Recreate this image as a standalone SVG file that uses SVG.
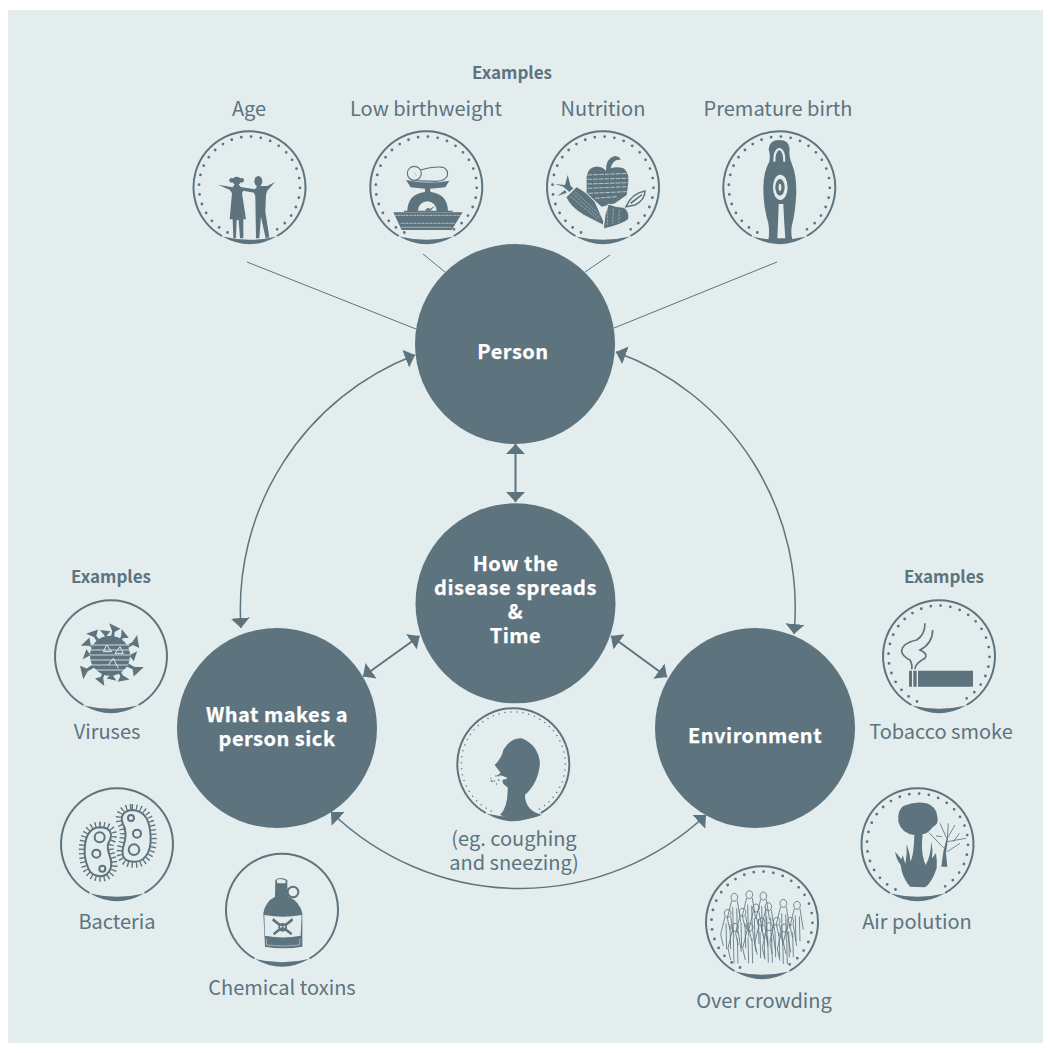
<svg xmlns="http://www.w3.org/2000/svg" width="1051" height="1053" viewBox="0 0 1051 1053">
<style>
text{font-family:"Noto Sans CJK SC","Noto Sans",sans-serif;text-anchor:middle}
.lbl{font-size:20px;fill:#5d737e}
.ex{font-size:17px;font-weight:700;fill:#5d737e}
.nt{font-size:20px;font-weight:700;fill:#fff;letter-spacing:.5px;stroke:#fff;stroke-width:.25px}
.hub{fill:#5d737e}
.ink{fill:#5d737e}
.lt{fill:#e3edee}
.ltl{fill:none;stroke:#e3edee;stroke-width:3}
.ol{fill:none;stroke:#5d737e;stroke-width:3.500}
.ring{fill:none;stroke:#5d737e;stroke-width:2}
.dots{fill:none;stroke:#5d737e;stroke-width:2.800;stroke-linecap:round;stroke-dasharray:0 9.800}
.arc{fill:none;stroke:#5d737e;stroke-width:1.500;marker-start:url(#ah);marker-end:url(#ah)}
.dbl{fill:none;stroke:#5d737e;stroke-width:2;marker-start:url(#ah);marker-end:url(#ah)}
.thin{fill:none;stroke:#5d737e;stroke-width:1}
</style>
<defs>
<marker id="ah" markerUnits="userSpaceOnUse" markerWidth="20" markerHeight="20" refX="10" refY="9.500" orient="auto-start-reverse" viewBox="0 0 20 19"><path d="M0 0L10 9.500L0 19Z" fill="#5d737e"/></marker>
<g id="ring"><path class="ring" d="M27.500 49A56 56 0 1 0-27.500 49"/><path class="ink" d="M-27 49.500Q0 65 27 49.500Q0 56-27 49.500Z"/></g>
<path id="dotring" class="dots" d="M-22 45.500A50.500 50.500 0 1 1 22 45.500"/>
<path id="spike" class="ink" d="M-5 -50L5 -50L4 -72L20 -84L-16 -96L-4 -74Z"/>
</defs>
<rect width="1051" height="1053" fill="#fff"/>
<rect x="8" y="10" width="1035" height="1033" fill="#e3edee"/>

<g id="connectors">
<path class="arc" d="M415 355A272 272 0 0 0 241 628"/>
<path class="arc" d="M616 352A272 272 0 0 1 794 634"/>
<path class="arc" d="M331 812A272 272 0 0 0 706 815"/>
<path class="dbl" d="M515.500 444V502"/>
<path class="dbl" d="M419.500 636L363 676.500"/>
<path class="dbl" d="M611 636L667 677"/>
<path class="thin" d="M247 262L416 329M423 254L445 272M610 255L585 272M777 262L614 328"/>
</g>

<g id="node-person"><circle class="hub" cx="515" cy="344" r="100"/><text class="nt" x="513" y="359">Person</text></g>
<g id="node-spread"><circle class="hub" cx="515.500" cy="603.300" r="100"/><text class="nt"><tspan x="515.500" y="571">How the</tspan><tspan x="515.500" y="595">disease spreads</tspan><tspan x="515.500" y="619">&amp;</tspan><tspan x="515.500" y="643">Time</tspan></text></g>
<g id="node-agent"><circle class="hub" cx="277" cy="728" r="100"/><text class="nt"><tspan x="277" y="722">What makes a</tspan><tspan x="277" y="746">person sick</tspan></text></g>
<g id="node-environment"><circle class="hub" cx="755" cy="728" r="100"/><text class="nt" x="755" y="743">Environment</text></g>

<text class="ex" x="512" y="79">Examples</text>
<text class="ex" x="111" y="583">Examples</text>
<text class="ex" x="944" y="583">Examples</text>

<g id="icon-age">
<text class="lbl" x="249" y="116">Age</text>
<use href="#ring" x="249.500" y="187"/><use href="#dotring" x="249.500" y="187"/>
<g class="ink" transform="translate(180 60) scale(.3333)">
<circle cx="170" cy="362" r="12"/><circle cx="155" cy="361" r="7"/><circle cx="185" cy="361" r="7"/>
<ellipse cx="235" cy="364" rx="12" ry="16"/>
<path d="M114 374L158 382L165 372L175 372L182 381L225 388L232 378L240 378L262 378L285 366L262 392L258 405L256 455L268 532L257 535L243 470L238 535L228 535L226 410L222 398L190 392L186 400L198 478L190 478L190 535L180 535L176 480L170 480L168 535L160 535L158 478L149 478L156 400L150 390Z"/>
</g></g>

<g id="icon-birthweight">
<text class="lbl" x="426" y="116">Low birthweight</text>
<use href="#ring" x="426.300" y="187"/><use href="#dotring" x="426.300" y="187"/>
<g transform="translate(180 60) scale(.3333)">
<circle cx="703" cy="340" r="21" class="ol"/>
<path class="ol" d="M722 330Q760 318 790 322Q806 330 802 348Q795 362 770 364L700 362"/>
<path class="thin" d="M703 338L710 348"/>
<path class="ink" d="M678 360Q740 374 808 362L796 382L750 386L752 396Q802 402 804 452L818 452L818 456L672 456L672 452L682 452Q684 402 735 396L735 386L692 382ZM640 457H848L815 510H665Z"/>
<path class="lt" d="M714 452A28 28 0 0 1 770 452Z"/>
<path class="ink" d="M736 452A8 8 0 0 1 750 447L765 437L752 452Z"/>
<path class="ltl" style="stroke-width:2" stroke-dasharray="6 2" d="M646 466H842M662 490H825M664 502H816"/>
</g></g>

<g id="icon-nutrition">
<text class="lbl" x="603" y="116">Nutrition</text>
<use href="#ring" x="603" y="187"/><use href="#dotring" x="603" y="187"/>
<g transform="translate(520 60) scale(.3333)">
<path class="ink" d="M200 350Q205 318 235 320Q252 322 258 333Q256 295 285 288Q300 290 302 300Q280 296 272 325Q290 318 310 325Q328 335 325 370L320 405L285 430L245 440L200 400Z"/>
<path class="ltl" style="stroke-width:2" stroke-dasharray="14 3" d="M203 345L325 340M202 358L325 355M202 372L325 368M203 385L325 380M205 400L320 395M225 415L290 410"/>
<path class="ink" stroke="#e3edee" stroke-width="3" d="M138 412L170 380Q200 395 225 425L252 485L250 496L190 465Q150 440 138 412Z"/>
<path class="ink" d="M148 396L130 380L105 372L135 375L143 345L152 378L160 385ZM140 398L112 408L135 390Z"/>
<path class="ink" stroke="#e3edee" stroke-width="3" d="M265 432Q290 442 312 442Q330 455 326 478Q305 495 250 507L255 465Z"/>
<path class="ltl" style="stroke-width:1.200" stroke-dasharray="8 3" d="M150 408L235 480M165 395L245 470M158 400L240 476M262 445L262 495M280 445L278 492M298 450L296 488"/>
<path d="M318 440Q335 400 375 393Q375 420 345 435Z" fill="#e3edee" stroke="#5d737e" stroke-width="4.500"/>
<path class="ink" d="M330 428L365 402L368 405L334 432Z"/>
</g></g>

<g id="icon-premature">
<text class="lbl" x="778" y="116">Premature birth</text>
<use href="#ring" x="779.300" y="187"/><use href="#dotring" x="779.300" y="187"/>
<g transform="translate(520 60) scale(.3333)">
<path class="ink" d="M746 268Q748 240 778 240Q808 240 809 268Q806 290 815 310Q830 345 829 400Q826 460 815 500Q812 525 818 540L745 540Q750 520 745 490Q730 440 730 385Q730 335 748 305Q752 285 746 268Z"/>
<path class="lt" d="M760 305Q758 268 778 263Q798 268 796 305L790 305Q790 275 778 270Q766 275 766 305Z"/>
<ellipse cx="781" cy="382" rx="22" ry="38" fill="#e3edee"/>
<path class="lt" d="M772 535Q775 480 776 432L790 432Q792 480 796 535Z"/>
<ellipse cx="780" cy="382" rx="14" ry="25" class="ink"/><ellipse cx="780" cy="382" rx="4" ry="11" fill="#e3edee"/>
</g></g>

<g id="icon-viruses">
<use href="#ring" x="111" y="656"/>
<text class="lbl" x="107" y="739">Viruses</text>
<g transform="translate(40 590) scale(.3333)">
<circle cx="210" cy="197" r="60" class="ink"/>
<g transform="translate(210 197)">
<use href="#spike" transform="rotate(-38)"/><use href="#spike" transform="rotate(-12) scale(.85)"/><use href="#spike" transform="rotate(8)"/><use href="#spike" transform="rotate(33) scale(.9)"/><use href="#spike" transform="rotate(62) scale(1.05)"/><use href="#spike" transform="rotate(90) scale(.85)"/><use href="#spike" transform="rotate(118) scale(1.1)"/><use href="#spike" transform="rotate(150) scale(.95)"/><use href="#spike" transform="rotate(175) scale(.8)"/><use href="#spike" transform="rotate(200) scale(.95)"/><use href="#spike" transform="rotate(238) scale(1.1)"/><use href="#spike" transform="rotate(272) scale(.85)"/><use href="#spike" transform="rotate(298) scale(.95)"/>
</g>
<path class="ltl" style="stroke-width:2.500" d="M150 165H270M148 180H272M148 195H272M150 210H270M155 225H265M165 240H255"/>
<path class="ltl" style="stroke-width:3" d="M190 185L200 165L215 185ZM225 190L240 170L250 190ZM205 225L220 205L235 235"/>
</g></g>

<g id="icon-bacteria">
<use href="#ring" x="117" y="844"/>
<text class="lbl" x="117" y="929">Bacteria</text>
<g transform="translate(40 590) scale(.3333)" fill="none" stroke="#5d737e" stroke-width="6">
<path stroke-dasharray="4 9" stroke-width="16" d="M178 703C225 703 230 735 215 760C205 785 235 810 220 845C200 880 150 870 135 838C115 790 120 705 178 703Z"/>
<path d="M178 712C215 712 220 735 205 760C195 785 225 810 210 840C195 870 155 860 145 835C125 790 130 715 178 712Z" fill="#e3edee"/>
<circle cx="179" cy="742" r="15"/><circle cx="169" cy="791" r="12"/><circle cx="187" cy="836" r="9"/>
<path stroke-dasharray="4 9" stroke-width="16" d="M275 650C330 650 340 700 342 740C345 795 315 828 280 825C238 825 235 790 240 770C250 740 250 720 238 700C230 675 240 652 275 650Z"/>
<path d="M275 660C320 660 330 700 332 740C335 790 310 818 280 815C245 815 245 790 250 770C260 740 260 720 248 700C240 680 250 662 275 660Z" fill="#e3edee"/>
<circle cx="273" cy="684" r="9"/><circle cx="291" cy="731" r="12"/><circle cx="282" cy="779" r="16"/>
</g></g>

<g id="icon-toxins">
<use href="#ring" x="282" y="909.500"/>
<text class="lbl" x="282" y="995">Chemical toxins</text>
<g transform="translate(210 700) scale(.3333)">
<circle cx="249" cy="576" r="16" fill="none" stroke="#5d737e" stroke-width="6"/>
<path class="ink" d="M196 540Q210 528 232 540L232 560L236 590Q270 605 277 640L277 740Q220 750 165 740L160 640Q165 605 195 590Z"/>
<path class="lt" d="M200 540Q212 534 228 542L226 550L202 550Z"/>
<path class="lt" d="M163 645Q220 655 275 645L272 707Q220 718 165 707Z"/>
<path class="ltl" d="M168 715L170 735Q220 742 268 735L270 715" style="stroke-width:1.500"/>
<g class="ink"><circle cx="218" cy="682" r="13"/><path d="M190 656L246 700L243 704L188 662ZM246 656L190 700L193 704L248 662Z" stroke="#5d737e" stroke-width="3"/></g>
<circle cx="213" cy="680" r="3" fill="#e3edee"/><circle cx="223" cy="680" r="3" fill="#e3edee"/>
</g></g>

<g id="icon-cough">
<use href="#ring" x="513.300" y="764"/>
<path class="dots" style="stroke-width:1.500;stroke-dasharray:0 6" d="M491.300 811A52 52 0 1 1 535.300 811"/>
<text class="lbl"><tspan x="514" y="846">(eg. coughing</tspan><tspan x="514" y="870">and sneezing)</tspan></text>
<g transform="translate(210 700) scale(.3333)">
<path class="ink" d="M880 150Q900 115 935 115Q985 135 990 190Q985 250 945 285Q945 330 995 345Q940 370 870 345Q895 320 893 262Q875 252 878 240L892 232L860 228L872 218L854 195Q875 175 880 150Z"/>
<path class="lt" d="M868 226Q885 228 892 238L872 238Z"/>
<circle cx="845" cy="243" r="3" class="ink"/><circle cx="858" cy="228" r="2.500" class="ink"/><circle cx="853" cy="243" r="2.500" class="ink"/><circle cx="860" cy="252" r="2" class="ink"/><circle cx="843" cy="235" r="2" class="ink"/><circle cx="866" cy="240" r="2.500" class="ink"/>
</g></g>

<g id="icon-smoke">
<use href="#ring" x="939" y="656"/><use href="#dotring" x="939" y="656"/>
<text class="lbl" x="941" y="739">Tobacco smoke</text>
<g transform="translate(860 590) scale(.3333)">
<path class="ink" d="M147 242H156V290H147ZM160 242H170V290H160ZM174 242H339V290H174Z"/>
<path fill="none" stroke="#5d737e" stroke-width="5" d="M195 100Q195 135 170 150Q125 160 125 185Q130 200 150 210Q158 225 155 238M218 120Q218 160 180 180Q205 190 195 205Q165 220 165 238"/>
</g></g>

<g id="icon-pollution">
<use href="#ring" x="917.500" y="844"/><use href="#dotring" x="917.500" y="844"/>
<text class="lbl" x="917" y="929">Air polution</text>
<g transform="translate(860 590) scale(.3333)">
<path class="ink" d="M130 648Q165 632 200 640Q230 650 232 680Q238 700 218 712Q200 735 188 732Q184 770 188 795Q192 815 197 825Q212 800 214 755Q220 780 216 805L228 790Q232 815 230 835Q215 880 195 892L150 890Q125 860 122 825Q110 810 105 785Q115 795 124 808Q130 790 128 795L136 822Q142 790 140 762Q150 790 152 815Q162 790 163 735Q125 730 115 695Q112 660 130 648Z"/>
<path class="ink" d="M250 785L260 745L264 745L258 790L262 830L244 830Z"/>
<path fill="none" stroke="#5d737e" stroke-width="2.500" d="M207 728L252 775M228 738L245 740M240 700L260 745M265 700L262 745L285 705M262 755L318 745M280 755L298 730M262 785L300 760"/>
</g></g>

<g id="icon-crowd">
<use href="#ring" x="762" y="922"/><use href="#dotring" x="762" y="922"/>
<text class="lbl" x="764" y="1008">Over crowding</text>
<g transform="translate(690 850) scale(.3333)" fill="none" stroke="#5d737e" stroke-width="2.500">
<path id="p1" d="M133 130a10 12 0 1 0 .1 0M125 152L112 205L120 240M142 152L152 215M128 172L130 250M140 175L142 250"/>
<use href="#p1" x="45" y="-8"/><use href="#p1" x="87" y="-4"/><use href="#p1" x="147" y="18"/><use href="#p1" x="188" y="24"/><use href="#p1" x="-20" y="48"/><use href="#p1" x="25" y="45"/><use href="#p1" x="102" y="28"/><use href="#p1" x="65" y="32"/><use href="#p1" x="168" y="72"/><use href="#p1" x="127" y="72"/><use href="#p1" x="82" y="74"/><use href="#p1" x="2" y="90"/><use href="#p1" x="46" y="90"/><use href="#p1" x="105" y="88"/><use href="#p1" x="150" y="92"/>
</g></g>
</svg>
